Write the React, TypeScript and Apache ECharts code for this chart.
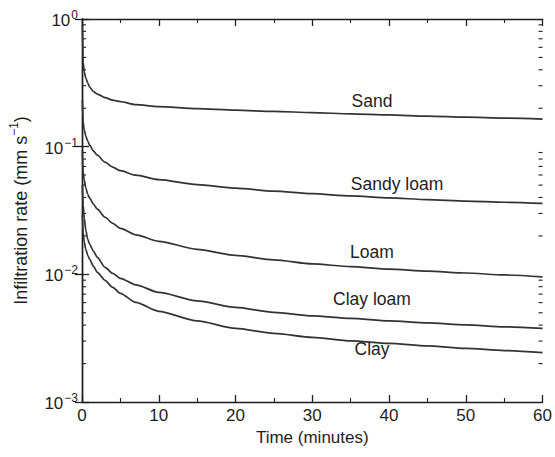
import React, { useEffect, useRef } from "react";
import * as echarts from "echarts";

const times = [0.05, 0.15, 0.3, 0.5, 0.75, 1, 1.5, 2, 3, 4, 5, 7, 10, 15, 20, 25, 30, 35, 40, 45, 50, 55, 60];
const sand = [0.897, 0.46, 0.384, 0.3445, 0.3148, 0.2929, 0.27, 0.2581, 0.2423, 0.2316, 0.2254, 0.2135, 0.206, 0.1986, 0.1933, 0.1888, 0.1848, 0.1808, 0.1772, 0.1734, 0.1703, 0.1673, 0.1643];
const sandyLoam = [0.2316, 0.1557, 0.1347, 0.1209, 0.1104, 0.1027, 0.0922, 0.0858, 0.0756, 0.0691, 0.0648, 0.0598, 0.0551, 0.0504, 0.0473, 0.0448, 0.0428, 0.0411, 0.0397, 0.0385, 0.0374, 0.0367, 0.036];
const loam = [0.0939, 0.0631, 0.0546, 0.0473, 0.0424, 0.0395, 0.0354, 0.0324, 0.028, 0.0251, 0.0229, 0.0204, 0.01815, 0.01571, 0.01409, 0.01299, 0.01209, 0.01149, 0.011, 0.01059, 0.01024, 0.00989, 0.00956];
const clayLoam = [0.0499, 0.0348, 0.0275, 0.0221, 0.0188, 0.01719, 0.01515, 0.01359, 0.01135, 0.01018, 0.0093, 0.00827, 0.00722, 0.0062, 0.00551, 0.00504, 0.00473, 0.00452, 0.00432, 0.00416, 0.00402, 0.00388, 0.00377];
const clay = [0.029, 0.02135, 0.01782, 0.01571, 0.01409, 0.01311, 0.01155, 0.01037, 0.00897, 0.00791, 0.0071, 0.00603, 0.00513, 0.00432, 0.00377, 0.00345, 0.00321, 0.00301, 0.00288, 0.00275, 0.00263, 0.00253, 0.00244];

const seriesNames = ["Sand", "Sandy loam", "Loam", "Clay loam", "Clay"];
const seriesValues = [sand, sandyLoam, loam, clayLoam, clay];

const yMin = 0.001;
const yMax = 1;
const xMin = 0;
const xMax = 60;
const minorTickValues: number[] = [];
for (const dec of [0.001, 0.01, 0.1]) {
  for (let k = 2; k <= 9; k++) minorTickValues.push(+(dec * k).toPrecision(3));
}

const labelPositions = [
  { text: "Sand", x: 372, y: 101 },
  { text: "Sandy loam", x: 397, y: 184 },
  { text: "Loam", x: 372, y: 252 },
  { text: "Clay loam", x: 372, y: 299 },
  { text: "Clay", x: 372, y: 349 },
];

const FONT = "'Liberation Sans', Arial, sans-serif";
const INK = "#1e1e1e";
const LINE = "#333";
const TICK = "#1e1e1e";

export default function App() {
  const ref = useRef<HTMLDivElement>(null);
  useEffect(() => {
    if (!ref.current) return;
    const chart = echarts.init(ref.current, null, { renderer: "svg" });
    const expLabel = (v: number) => {
      const e = Math.round(Math.log10(v));
      const s = e === 0 ? "0" : "\u2212" + Math.abs(e);
      return "{b|10}{s|" + s + "}";
    };
    const yRich = {
      b: { fontSize: 17, fontFamily: FONT, color: INK, verticalAlign: "bottom", lineHeight: 20 },
      s: { fontSize: 12, fontFamily: FONT, color: INK, verticalAlign: "top", lineHeight: 20, padding: [0, 0, 0, 1] },
    };
    const lineSeries = seriesNames.map((name, i) => ({
      name,
      type: "line",
      xAxisIndex: 0,
      yAxisIndex: 0,
      data: times.map((t, j) => [t, seriesValues[i][j]]),
      showSymbol: false,
      smooth: 0.25,
      smoothMonotone: "x",
      lineStyle: { color: LINE, width: 1.7 },
      silent: true,
    }));
    const minorSeries = {
      type: "custom",
      xAxisIndex: 0,
      yAxisIndex: 0,
      silent: true,
      clip: false,
      data: minorTickValues.map((v) => [xMin, v]),
      renderItem: (params: any, api: any) => {
        const v = api.value(1);
        const pl = api.coord([xMin, v]);
        const pr = api.coord([xMax, v]);
        return {
          type: "group",
          children: [
            { type: "line", shape: { x1: pl[0], y1: pl[1], x2: pl[0] + 4, y2: pl[1] }, style: { stroke: TICK, lineWidth: 1.1 } },
            { type: "line", shape: { x1: pr[0], y1: pr[1], x2: pr[0] - 4, y2: pr[1] }, style: { stroke: TICK, lineWidth: 1.1 } },
          ],
        };
      },
    };
    const axisLine = { show: true, lineStyle: { color: INK, width: 1.4 } };
    chart.setOption({
      animation: false,
      backgroundColor: "#fff",
      grid: { left: 80, right: 7, top: 19, bottom: 55, containLabel: false },
      xAxis: [
        {
          type: "value",
          min: xMin,
          max: xMax,
          interval: 10,
          axisLine,
          axisTick: { show: true, inside: true, length: 7, lineStyle: { color: INK, width: 1.3 } },
          minorTick: { show: true, splitNumber: 2, length: 4, lineStyle: { color: TICK, width: 1.1 } },
          splitLine: { show: false },
          axisLabel: { fontSize: 17, fontFamily: FONT, color: INK, margin: 5 },
          name: "Time (minutes)",
          nameLocation: "middle",
          nameGap: 27,
          nameTextStyle: { fontSize: 17, fontFamily: FONT, color: INK },
        },
        {
          type: "value",
          position: "top",
          min: xMin,
          max: xMax,
          interval: 10,
          axisLine,
          axisTick: { show: true, inside: true, length: 7, lineStyle: { color: INK, width: 1.3 } },
          minorTick: { show: true, splitNumber: 2, length: 4, lineStyle: { color: TICK, width: 1.1 } },
          splitLine: { show: false },
          axisLabel: { show: false },
        },
      ],
      yAxis: [
        {
          type: "log",
          logBase: 10,
          min: yMin,
          max: yMax,
          axisLine,
          axisTick: { show: true, inside: true, length: 7, lineStyle: { color: INK, width: 1.3 } },
          splitLine: { show: false },
          axisLabel: { formatter: expLabel, rich: yRich, margin: 4 },
          name: "{b|Infiltration rate (mm s}{s|\u22121}{b|)}",
          nameLocation: "middle",
          nameGap: 52,
          nameTextStyle: {
            rich: {
              b: { fontSize: 18, fontFamily: FONT, color: INK, verticalAlign: "bottom", lineHeight: 22 },
              s: { fontSize: 12, fontFamily: FONT, color: INK, verticalAlign: "top", lineHeight: 22 },
            },
          },
        },
        {
          type: "log",
          logBase: 10,
          position: "right",
          min: yMin,
          max: yMax,
          axisLine,
          axisTick: { show: true, inside: true, length: 7, lineStyle: { color: INK, width: 1.3 } },
          splitLine: { show: false },
          axisLabel: { show: false },
        },
      ],
      series: [...lineSeries, minorSeries],
      graphic: labelPositions.map((l) => ({
        type: "text",
        x: l.x,
        y: l.y,
        style: {
          text: l.text,
          fontSize: 17.5,
          fontFamily: FONT,
          fill: INK,
          textAlign: "center",
          textVerticalAlign: "middle",
        },
      })),
    });
    return () => chart.dispose();
  }, []);
  return <div ref={ref} style={{ width: 555, height: 457, position: "absolute", left: 0, top: 0 }} />;
}
